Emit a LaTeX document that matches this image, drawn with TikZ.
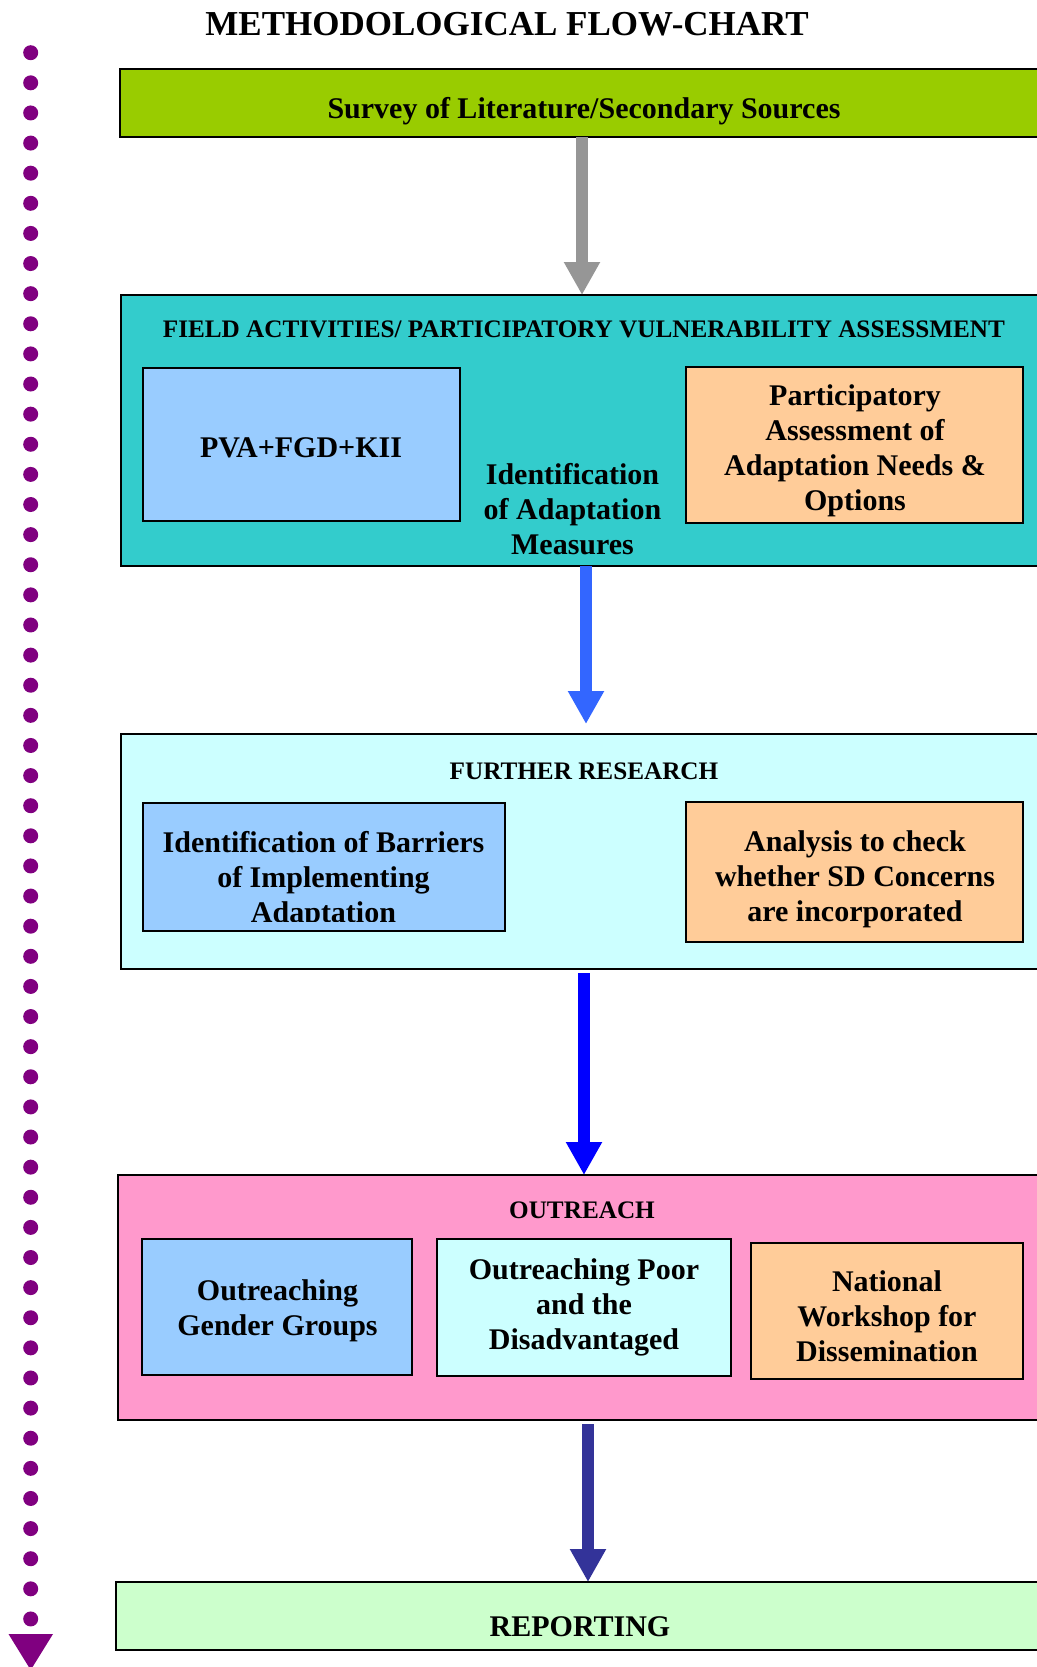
\documentclass[tikz,border=0pt]{standalone}
\usepackage{fontspec}
\setmainfont{Liberation Serif}
\usetikzlibrary{arrows.meta,fit}
\definecolor{cSurvey}{HTML}{99CC00}
\definecolor{cField}{HTML}{33CCCC}
\definecolor{cBlueBox}{HTML}{99CCFF}
\definecolor{cOrange}{HTML}{FFCC99}
\definecolor{cCyan}{HTML}{CCFFFF}
\definecolor{cPink}{HTML}{FF99CC}
\definecolor{cReport}{HTML}{CCFFCC}
\definecolor{cPurple}{HTML}{800080}
\definecolor{cGrayArrow}{HTML}{969696}
\definecolor{cBlueA}{HTML}{3366FF}
\definecolor{cBlueB}{HTML}{0000FF}
\definecolor{cNavy}{HTML}{333399}
\tikzset{
  box/.style={draw=black, line width=1pt, inner sep=0pt, outer sep=0pt},
  lbl/.style={inner sep=0pt, outer sep=0pt, align=center},
  titlefont/.style={font=\fontsize{17.5pt}{20pt}\selectfont\bfseries},
  big/.style={font=\fontsize{15pt}{17.5pt}\selectfont\bfseries},
  head/.style={font=\fontsize{12.6pt}{15pt}\selectfont\bfseries},
  flow/.style={line width=6pt, -{Triangle[width=17pt,length=16.5pt]}},
}
\begin{document}
\begin{tikzpicture}[x=0.5pt,y=-0.5pt]
\path[use as bounding box] (0,0) rectangle (1037,1667);
\clip (0,0) rectangle (1037,1667);
\fill[white] (0,0) rectangle (1037,1667);

% title
\node[lbl, titlefont, anchor=base] (title) at (507,35) {METHODOLOGICAL FLOW-CHART};

% dotted progress line
\foreach \i in {0,...,52}
  \fill[cPurple] (30.7,{52.7+30.12*\i}) circle[radius=3.75pt];
\fill[cPurple] (8.5,1634) -- (53,1634) -- (30.7,1670) -- cycle;

% boxes
\node[box, fill=cSurvey, fit={(120,69) (1045,137)}] (survey) {};
\node[box, fill=cField, fit={(121,295) (1045,566)}] (field) {};
\node[box, fill=cBlueBox, fit={(143,368) (460,521)}] (pva) {};
\node[box, fill=cOrange, fit={(686,367) (1023,523)}] (part) {};
\node[box, fill=cCyan, fit={(121,734) (1045,969)}] (further) {};
\node[box, fill=cBlueBox, fit={(143,803) (505,931)}] (barr) {};
\node[box, fill=cOrange, fit={(686,802) (1023,942)}] (anal) {};
\node[box, fill=cPink, fit={(118,1175) (1045,1420)}] (outreach) {};
\node[box, fill=cBlueBox, fit={(142,1239) (412,1375)}] (gender) {};
\node[box, fill=cCyan, fit={(437,1239) (731,1376)}] (poor) {};
\node[box, fill=cOrange, fit={(751,1243) (1023,1379)}] (natl) {};
\node[box, fill=cReport, fit={(116,1582) (1045,1650)}] (report) {};

% texts
\node[lbl, big, anchor=base] (surveyT) at (584,118) {Survey of Literature/Secondary Sources};
\node[lbl, head, anchor=base] (fieldT) at (584,337) {FIELD ACTIVITIES/ PARTICIPATORY VULNERABILITY ASSESSMENT};
\node[lbl, big, anchor=base] (pvaT) at (301,457) {PVA+FGD+KII};
\node[lbl, big, anchor=north] (idT) at (572.5,459.5) {\strut Identification\\of Adaptation\\Measures};
\node[lbl, big, anchor=north] (partT) at (855,380.5) {\strut Participatory\\Assessment of\\Adaptation Needs \&\\Options};
\node[lbl, head, anchor=base] (furtherT) at (584,779) {FURTHER RESEARCH};
\begin{scope}
  \clip (143,803) rectangle (505,921);
  \node[lbl, big, anchor=north] (barrT) at (323.5,827.5) {\strut Identification of Barriers\\of Implementing\\Adaptation};
\end{scope}
\node[lbl, big, anchor=north] (analT) at (855,826.5) {\strut Analysis to check\\whether SD Concerns\\are incorporated};
\node[lbl, head, anchor=base] (outreachT) at (582,1218) {OUTREACH};
\node[lbl, big, anchor=north] (genderT) at (277.5,1275.5) {\strut Outreaching\\Gender Groups};
\node[lbl, big, anchor=north] (poorT) at (584,1254.5) {\strut Outreaching Poor\\and the\\Disadvantaged};
\node[lbl, big, anchor=north] (natlT) at (887,1266.5) {\strut National\\Workshop for\\Dissemination};
\node[lbl, big, anchor=base] (reportT) at (580,1636) {REPORTING};

% connectors
\coordinate (xa) at (582,0);
\coordinate (xb) at (586,0);
\coordinate (xc) at (584,0);
\coordinate (xd) at (588,0);
\draw[flow, cGrayArrow] (survey.south -| xa) -- (field.north -| xa);
\draw[flow, cBlueA, shorten >=5pt] (field.south -| xb) -- (further.north -| xb);
\draw[flow, cBlueB, shorten <=2pt] (further.south -| xc) -- (outreach.north -| xc);
\draw[flow, cNavy, shorten <=2pt] (outreach.south -| xd) -- (report.north -| xd);
\end{tikzpicture}
\end{document}
